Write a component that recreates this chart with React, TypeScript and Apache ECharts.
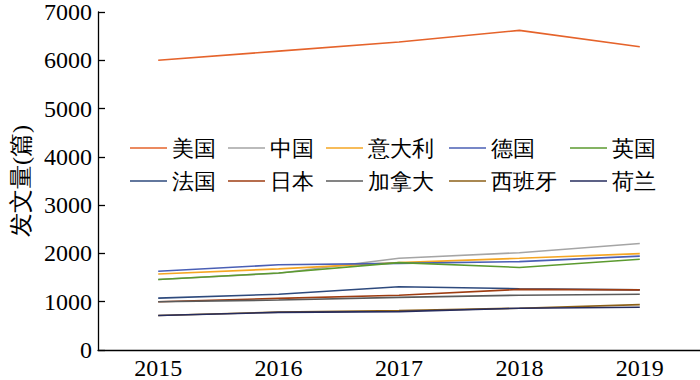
import React, { useEffect, useRef } from "react";
import * as echarts from "echarts";

const years = ["2015", "2016", "2017", "2018", "2019"];
const countries = ["美国", "中国", "意大利", "德国", "英国", "法国", "日本", "加拿大", "西班牙", "荷兰"];

const usa = [6000, 6190, 6380, 6620, 6280];
const china = [1460, 1590, 1900, 2015, 2205];
const italy = [1575, 1680, 1810, 1900, 1995];
const germany = [1630, 1765, 1795, 1830, 1945];
const uk = [1460, 1595, 1810, 1710, 1880];
const france = [1075, 1155, 1310, 1270, 1245];
const japan = [1000, 1070, 1135, 1255, 1245];
const canada = [1000, 1035, 1090, 1135, 1155];
const spain = [715, 785, 815, 865, 940];
const netherlands = [715, 780, 795, 865, 885];

const seriesValues = [usa, china, italy, germany, uk, france, japan, canada, spain, netherlands];
const colors = ["#E5632B", "#A5A5A5", "#F5A623", "#4A5FB5", "#5B9A2F", "#2E4A7D", "#9E3D12", "#5B5B5B", "#8C6018", "#262C5E"];

const font = "Times New Roman";

export default function App() {
  const ref = useRef<HTMLDivElement>(null);
  useEffect(() => {
    if (!ref.current) return;
    const chart = echarts.init(ref.current, undefined, { renderer: "svg" });
    const colLeft = [130, 228, 326, 449, 570];
    const legends = colLeft.map((left, i) => ({
      orient: "vertical" as const,
      left,
      top: 137,
      padding: 0,
      icon: "rect",
      itemWidth: 37,
      itemHeight: 1.6,
      itemGap: 11,
      data: [countries[i], countries[i + 5]],
      textStyle: { fontFamily: font, fontSize: 22, color: "#000", lineHeight: 22 },
    }));
    chart.setOption({
      animation: false,
      color: colors,
      legend: legends,
      grid: { left: 98, right: 0, top: 11, bottom: 29, containLabel: false },
      xAxis: {
        type: "category",
        data: years,
        boundaryGap: true,
        axisLine: { lineStyle: { color: "#000", width: 1.3 } },
        axisTick: { alignWithLabel: true, inside: true, length: 8, lineStyle: { color: "#000", width: 1.3 } },
        axisLabel: { color: "#000", fontFamily: font, fontSize: 24, margin: 6 },
        splitLine: { show: false },
      },
      yAxis: {
        type: "value",
        min: 0,
        max: 7000,
        interval: 1000,
        name: "发文量(篇)",
        nameLocation: "middle",
        nameGap: 64,
        nameRotate: 90,
        nameTextStyle: { fontFamily: font, fontSize: 24, color: "#000" },
        axisLine: { show: true, lineStyle: { color: "#000", width: 1.3 } },
        axisTick: { show: true, inside: true, length: 7, lineStyle: { color: "#000", width: 1.3 } },
        axisLabel: { color: "#000", fontFamily: font, fontSize: 24, margin: 6, formatter: (v: number) => String(v) },
        splitLine: { show: false },
      },
      series: countries.map((name, i) => ({
        name,
        type: "line",
        data: seriesValues[i],
        symbol: "none",
        showSymbol: false,
        lineStyle: { width: 1.6, color: colors[i] },
        itemStyle: { color: colors[i] },
      })),
    });
    return () => chart.dispose();
  }, []);
  return <div ref={ref} style={{ position: "absolute", left: 0, top: 0, width: 700, height: 380 }} />;
}
